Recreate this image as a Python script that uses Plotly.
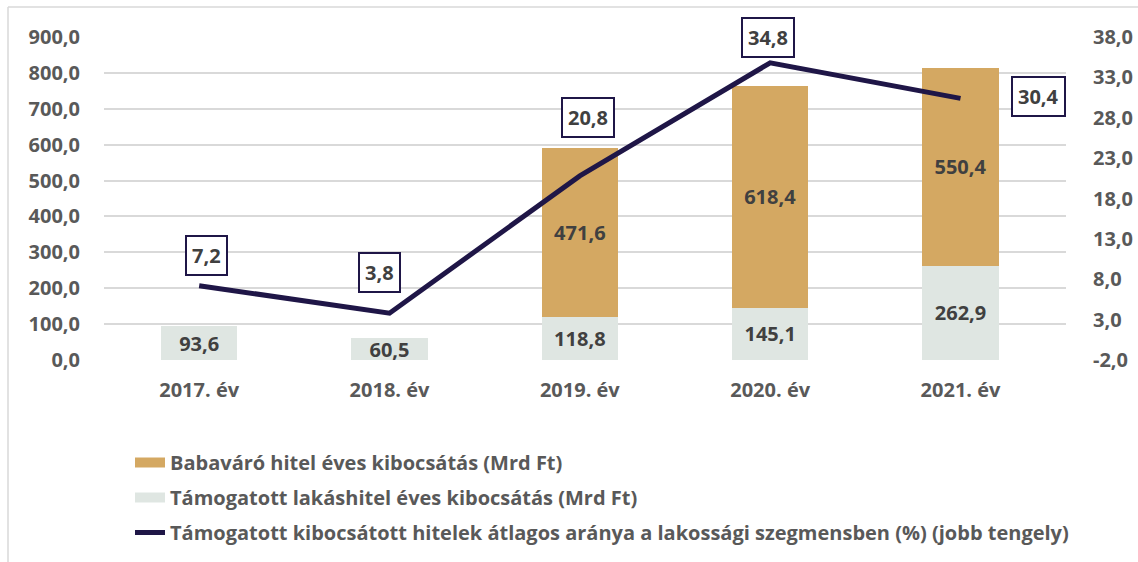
import plotly.graph_objects as go

categories = ["2017. év", "2018. év", "2019. év", "2020. év", "2021. év"]
lakashitel = [93.6, 60.5, 118.8, 145.1, 262.9]
babavaro = [None, None, 471.6, 618.4, 550.4]
arany = [7.2, 3.8, 20.8, 34.8, 30.4]
label_shift = [(7, 30), (-10, 41), (8, 58), (-2, 25), (78, 2)]

left_ticks = [0, 100, 200, 300, 400, 500, 600, 700, 800, 900]
right_ticks = [-2, 3, 8, 13, 18, 23, 28, 33, 38]

FONT = "Open Sans"
TICK = "#595959"
LBL = "#404040"
NAVY = "#1F1647"
GOLD = "#D4A862"
MINT = "#DFE6E2"

NAME_BABA = "Babaváró hitel éves kibocsátás (Mrd Ft)"
NAME_LAKAS = "Támogatott lakáshitel éves kibocsátás (Mrd Ft)"
NAME_ARANY = "Támogatott kibocsátott hitelek átlagos aránya a lakossági szegmensben (%) (jobb tengely)"


def hu(v):
    return f"{v:.1f}".replace(".", ",")


fig = go.Figure()
fig.add_trace(go.Bar(
    x=categories, y=lakashitel, name=NAME_LAKAS, showlegend=False,
    marker=dict(color=MINT, line=dict(width=0)),
    texttemplate="%{y:.1f}", textposition="inside", insidetextanchor="middle", textangle=0,
    textfont=dict(family=FONT, size=20, color=LBL, weight="bold"),
))
fig.add_trace(go.Bar(
    x=categories, y=babavaro, name=NAME_BABA, showlegend=False,
    marker=dict(color=GOLD, line=dict(width=0)),
    texttemplate="%{y:.1f}", textposition="inside", insidetextanchor="middle", textangle=0,
    textfont=dict(family=FONT, size=20, color=LBL, weight="bold"),
))
fig.add_trace(go.Scatter(
    x=categories, y=arany, yaxis="y2", mode="lines", name=NAME_ARANY, showlegend=False,
    line=dict(color=NAVY, width=5),
))

# legend entries (swatches drawn as thick short lines)
for rank, (nm, col, w) in enumerate([(NAME_BABA, GOLD, 13), (NAME_LAKAS, MINT, 13), (NAME_ARANY, NAVY, 5)]):
    fig.add_trace(go.Scatter(
        x=[None], y=[None], mode="lines", name=nm, line=dict(color=col, width=w),
        legendrank=rank + 1, legendgroup=f"g{rank}", showlegend=True, hoverinfo="skip",
    ))

for cat, val, (dx, dy) in zip(categories, arany, label_shift):
    fig.add_annotation(
        x=cat, y=val, xref="x", yref="y2", text=hu(val),
        showarrow=False, xshift=dx, yshift=dy,
        font=dict(family=FONT, size=20, color=LBL, weight="bold"),
        bordercolor=NAVY, borderwidth=2, borderpad=5, bgcolor="white",
    )

W, H = 1138, 562
L, R, T, B = 104, 72, 37, 202
pw, ph = W - L - R, H - T - B
def px(xp):
    return (xp - L) / pw
def py(yp):
    return (H - B - yp) / ph

fig.add_shape(type="line", xref="paper", yref="paper", x0=px(8), x1=px(W), y0=py(7), y1=py(7),
              line=dict(color="#D9D9D9", width=1.5))
fig.add_shape(type="line", xref="paper", yref="paper", x0=px(8), x1=px(8), y0=py(7), y1=py(H),
              line=dict(color="#D9D9D9", width=1.5))

tickfont = dict(family=FONT, size=20, color=TICK, weight="bold")
fig.update_layout(
    width=W, height=H, margin=dict(l=L, r=R, t=T, b=B, autoexpand=False),
    barmode="stack", bargap=0.6, separators=", ",
    plot_bgcolor="white", paper_bgcolor="white",
    font=dict(family=FONT, color=TICK),
    xaxis=dict(showgrid=False, showline=False, zeroline=False, ticks="", automargin=False,
               tickfont=tickfont, ticklabelstandoff=16, fixedrange=True),
    yaxis=dict(range=[0, 900], tickvals=left_ticks, ticktext=[hu(v) for v in left_ticks],
               automargin=False,
               showgrid=True, gridcolor="#D9D9D9", gridwidth=1.5, zeroline=False, showline=False,
               tickfont=tickfont, ticklabelstandoff=23),
    yaxis2=dict(range=[-2, 38], tickvals=right_ticks, ticktext=[hu(v) for v in right_ticks],
                overlaying="y", side="right",
                showgrid=False, zeroline=False, showline=False, automargin=False,
                tickfont=tickfont, ticklabelstandoff=26),
    showlegend=True,
    legend=dict(x=px(130), y=py(443), xanchor="left", yanchor="top", traceorder="grouped",
                tracegroupgap=6, font=dict(family=FONT, size=20, color=TICK, weight="bold"),
                bgcolor="rgba(0,0,0,0)"),
    uniformtext=dict(minsize=20, mode="show"),
)

fig.write_html("out.html", config={"displayModeBar": False},
               post_script="document.body.style.margin='0';document.body.style.overflow='hidden';")
